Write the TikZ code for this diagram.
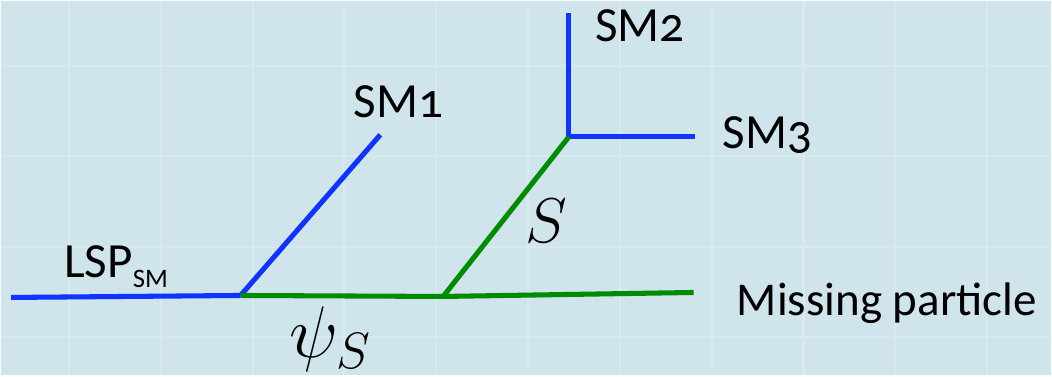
\documentclass[tikz,border=0pt]{standalone}
\usepackage{fix-cm}
\usepackage{fontspec}
\setmainfont[Numbers=OldStyle]{Carlito}
\definecolor{slidebg}{HTML}{D0E4EC}
\definecolor{slidegrid}{HTML}{D8E9F0}
\definecolor{smblue}{HTML}{1034FF}
\definecolor{susygreen}{HTML}{008C00}
\tikzset{
  smline/.style={line width=3.6pt, smblue},
  susyline/.style={line width=3.6pt, susygreen},
  leglabel/.style={inner sep=0pt, anchor=base west, font=\fontsize{35}{40}\selectfont},
  mathlabel/.style={inner sep=0pt, anchor=base west}
}
\begin{document}
\begin{tikzpicture}[x=0.025cm, y=-0.025cm]
    % Background with faint grid
    \fill[slidebg] (0, 0) rectangle (1052, 375);
    \foreach \gx in {68, 160, 252, 344, 436, 528, 620, 712, 804, 896, 988}
        \draw[slidegrid, line width=1.5pt] (\gx, 0) -- (\gx, 375);
    \foreach \gy in {65, 155, 246, 337}
        \draw[slidegrid, line width=1.5pt] (0, \gy) -- (1052, \gy);
    \useasboundingbox (0, 0) rectangle (1052, 375);

    % Vertices and free ends
    \coordinate (lspend) at (10, 297);
    \coordinate (vtxA) at (240, 295);
    \coordinate (vtxB) at (443, 296);
    \coordinate (vtxC) at (569, 136);
    \coordinate (smoneend) at (380, 134);
    \coordinate (smtwoend) at (569, 12);
    \coordinate (smthreeend) at (695, 136);
    \coordinate (missend) at (694, 292);

    % Standard model legs
    \draw[smline] (lspend) -- (vtxA);
    \draw[smline] (vtxA) -- (smoneend);
    \draw[smline] (smtwoend) -- (vtxC) -- (smthreeend);

    % New particles
    \draw[susyline] (vtxA) -- (vtxB);
    \draw[susyline] (vtxB) -- (vtxC);
    \draw[susyline] (vtxB) -- (missend);

    % Labels
    \node[leglabel] (lsplabel) at (63, 277)
        {LSP\raisebox{-7pt}{\fontsize{19}{21}\selectfont SM}};
    \node[leglabel] (smonelabel) at (353, 117) {SM1};
    \node[leglabel] (smtwolabel) at (595, 41) {SM2};
    \node[leglabel] (smthreelabel) at (723, 148) {SM3};
    \node[leglabel, font=\fontsize{33.5}{38}\selectfont] (misslabel) at (737, 315) {Missing particle};
    \node[mathlabel, font=\fontsize{45}{50}\selectfont] (slabel) at (525, 242) {$S$};
    \node[mathlabel, font=\fontsize{52}{60}\selectfont] (psilabel) at (289, 357) {$\psi_S$};
\end{tikzpicture}
\end{document}
